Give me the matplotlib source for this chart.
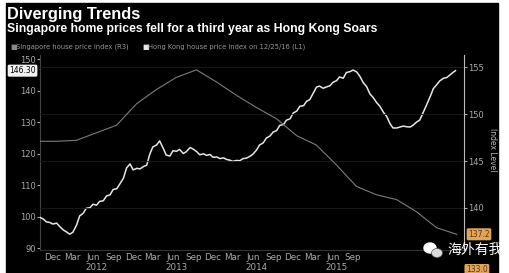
import matplotlib
matplotlib.use("Agg")
import matplotlib.pyplot as plt
from matplotlib.patches import Rectangle, Ellipse
import pandas as pd

# Hong Kong house price index (left axis), semi-monthly readings
hk_start = "2011-10-15"
hk_values = [
    99.8, 99.2, 98.3, 98.1, 97.6, 97.9, 96.8, 95.7, 95.1, 94.4,
    95.0, 97.3, 100.2, 101.0, 102.6, 102.8, 103.9, 103.6, 104.8, 105.0,
    106.5, 106.9, 108.6, 108.8, 110.3, 112.2, 115.4, 116.7, 114.8, 115.3,
    115.1, 115.9, 116.3, 119.8, 122.1, 122.7, 124.0, 121.7, 119.5, 119.2,
    120.9, 120.7, 121.3, 120.0, 120.6, 121.9, 121.4, 120.6, 119.6, 119.9,
    119.4, 119.7, 118.8, 118.9, 118.4, 118.6, 118.1, 117.9, 117.5, 117.8,
    117.7, 118.4, 118.5, 119.1, 119.8, 121.1, 122.7, 123.4, 124.9, 125.6,
    126.8, 127.3, 128.9, 129.2, 130.6, 131.0, 132.8, 133.5, 135.0, 135.2,
    136.6, 137.1, 138.9, 141.1, 141.4, 140.7, 141.1, 141.5, 142.6, 143.1,
    144.3, 143.9, 145.7, 146.0, 146.5, 145.9, 144.6, 142.4, 141.3, 138.9,
    137.8, 136.1, 135.0, 133.0, 131.8, 129.5, 128.1, 128.1, 128.4, 128.7,
    128.5, 128.4, 129.0, 130.0, 130.6, 133.2, 135.4, 138.1, 140.6, 141.9,
    143.1, 143.9, 144.1, 145.0, 145.8,
]
hk_last_date = "2016-12-25"
hk_last_value = 146.30

# Singapore house price index (right axis), quarterly
sg_dates = [
    "2011-09-30", "2011-12-31", "2012-03-31", "2012-06-30", "2012-09-30",
    "2012-12-31", "2013-03-31", "2013-06-30", "2013-09-30", "2013-12-31",
    "2014-03-31", "2014-06-30", "2014-09-30", "2014-12-31", "2015-03-31",
    "2015-06-30", "2015-09-30", "2015-12-31", "2016-03-31", "2016-06-30",
    "2016-09-30", "2016-12-31",
]
sg_values = [
    147.1, 147.1, 147.2, 148.0, 148.8, 151.1, 152.6, 153.9, 154.7, 153.4,
    152.0, 150.7, 149.5, 147.7, 146.7, 144.6, 142.3, 141.4, 140.9, 139.6,
    137.9, 137.2,
]

month_names = {12: "Dec", 3: "Mar", 6: "Jun", 9: "Sep"}
years = [2012, 2013, 2014, 2015]
left_ticks = [90, 100, 110, 120, 130, 140, 150]
right_ticks = [140, 145, 150, 155]

W, H = 509, 273
fig = plt.figure(figsize=(W / 100, H / 100), dpi=100, facecolor="white")
fig.patches.append(Rectangle((6 / W, 0), (498 - 6) / W, 270 / H,
                             transform=fig.transFigure, color="black", zorder=-5))

ax = fig.add_axes([40 / W, 1 - 250 / H, 424 / W, 195 / H])
ax.set_facecolor("black")
ax2 = ax.twinx()

hk_dates = list(pd.date_range(hk_start, periods=len(hk_values), freq="SMS-15")) + [pd.Timestamp(hk_last_date)]
hk_y = hk_values + [hk_last_value]
ax.plot(hk_dates, hk_y, color="#e6e6e6", lw=1.1, zorder=3)
ax2.plot(pd.to_datetime(sg_dates), sg_values, color="#7c7c7c", lw=0.8, zorder=2)

ax.set_xlim(pd.Timestamp("2011-10-17"), pd.Timestamp("2017-02-02"))
ax.set_ylim(89.37, 151.27)
ax2.set_ylim(135.53, 156.28)

for a in (ax, ax2):
    for s in a.spines.values():
        s.set_visible(False)
ax2.spines["right"].set_visible(True)
ax2.spines["right"].set_color("#bbbbbb")
ax2.spines["right"].set_linewidth(0.8)
ax.spines["left"].set_visible(True)
ax.spines["left"].set_color("#444444")
ax.spines["bottom"].set_visible(True)
ax.spines["bottom"].set_color("#333333")

ax.set_yticks(left_ticks)
ax.tick_params(axis="y", colors="#aaaaaa", labelsize=6, length=2, pad=1)
ax2.set_yticks(right_ticks)
ax2.tick_params(axis="y", colors="#aaaaaa", labelsize=6, length=2, pad=1)
ax2.grid(axis="y", color="#1e1e1e", lw=0.6)

# month labels, centred mid-month (later ones are hidden in the source)
tick_dates = [d + pd.Timedelta(days=14) for d in pd.date_range("2011-12-01", "2015-09-01", freq="QS-DEC")]
ax.set_xticks(tick_dates)
ax.set_xticklabels([month_names[d.month] for d in tick_dates])
ax.tick_params(axis="x", colors="#aaaaaa", labelsize=6.3, length=0, pad=2)
for yr in years:
    ax.text(pd.Timestamp(year=yr, month=7, day=1), -0.088, str(yr),
            transform=ax.get_xaxis_transform(), color="#aaaaaa", fontsize=6.3,
            ha="center", va="center")

# titles and legend
fig.text(7 / W, 1 - 14 / H, "Diverging Trends", color="white", fontsize=11.8,
         fontweight="bold", family="Liberation Sans", va="center")
fig.text(7 / W, 1 - 29 / H, "Singapore home prices fell for a third year as Hong Kong Soars",
         color="white", fontsize=8.8, fontweight="bold", family="Liberation Sans", va="center")
fig.text(10 / W, 1 - 47 / H, "\u25a0", color="#8a8a8a", fontsize=5, va="center")
fig.text(16 / W, 1 - 47 / H, "Singapore house price index (R3)", color="#999999",
         fontsize=4.9, va="center")
fig.text(142 / W, 1 - 47 / H, "\u25a0", color="#e6e6e6", fontsize=5, va="center")
fig.text(148 / W, 1 - 47 / H, "Hong Kong house price index on 12/25/16 (L1)", color="#999999",
         fontsize=4.9, va="center")

# value labels
ax.annotate(f"{hk_last_value:.2f}", xy=(0, hk_last_value), xycoords=("axes fraction", "data"),
            xytext=(-3, 0), textcoords="offset points", ha="right", va="center",
            fontsize=5.5, color="black",
            bbox=dict(boxstyle="round,pad=0.2", fc="#f0f0f0", ec="none"))
ax2.annotate(f"{sg_values[-1]:.1f}", xy=(1, sg_values[-1]), xycoords=("axes fraction", "data"),
             xytext=(3, 0), textcoords="offset points", ha="left", va="center",
             fontsize=5.5, color="#5a3a10",
             bbox=dict(boxstyle="round,pad=0.2", fc="#e0a55a", ec="none"))
fig.text(466 / W, 1 - 270 / H, "133.0", color="#5a3a10", fontsize=5.5, va="center",
         bbox=dict(boxstyle="round,pad=0.2", fc="#e0a55a", ec="none"))
fig.text(493 / W, 1 - 150 / H, "Index Level", color="#bbbbbb", fontsize=5.5,
         rotation=270, ha="center", va="center")

# watermark
fig.patches.append(Ellipse((430 / W, 1 - 248 / H), 12 / W, 10 / H, transform=fig.transFigure,
                           color="white", zorder=5))
fig.patches.append(Ellipse((437 / W, 1 - 253 / H), 11 / W, 9 / H, transform=fig.transFigure,
                           color="#dddddd", ec="#555555", lw=0.5, zorder=6))
fig.text(447 / W, 1 - 250 / H, "海外有我", color="white", fontsize=10,
         family=["Noto Sans CJK SC", "DejaVu Sans"], va="center", zorder=7)

fig.savefig("out.png", dpi=100, facecolor=fig.get_facecolor())
